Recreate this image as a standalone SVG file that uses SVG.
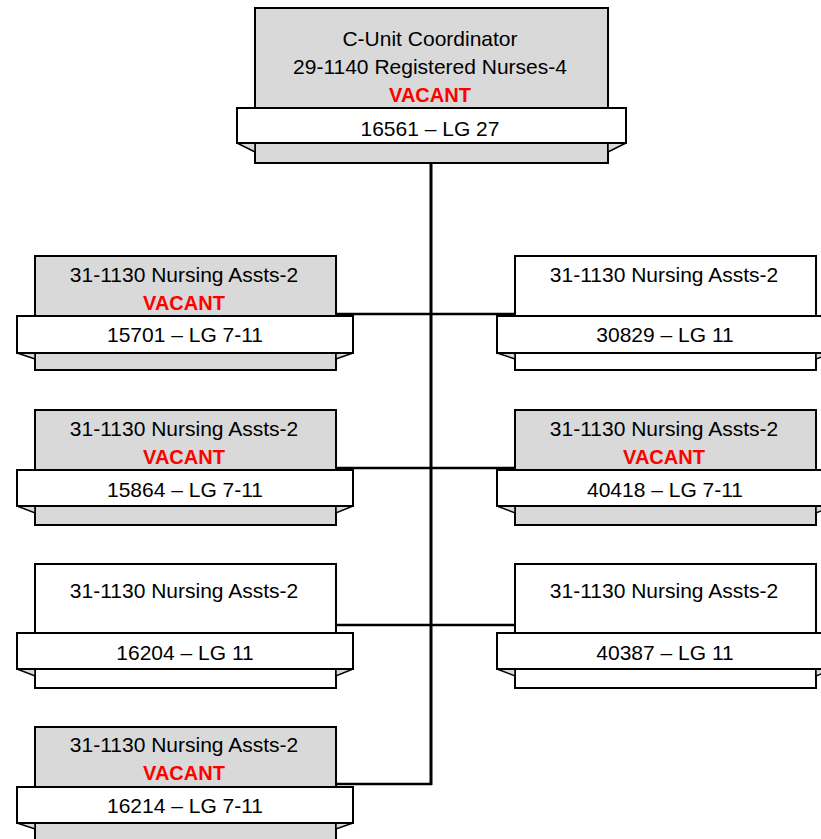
<svg xmlns="http://www.w3.org/2000/svg" width="821" height="839" viewBox="0 0 821 839">
<style>
.box{stroke:#000;stroke-width:2}
.gray{fill:#d9d9d9}
.white{fill:#fff}
.banner{fill:#fff;stroke:#000;stroke-width:2}
.fold{fill:#d9d9d9;stroke:#000;stroke-width:1.5;stroke-linejoin:miter}
.t{font-family:"Liberation Sans",Arial,sans-serif;font-size:21px;fill:#000;text-anchor:middle}
.v{font-family:"Liberation Sans",Arial,sans-serif;font-size:20px;font-weight:bold;fill:#ff0000;text-anchor:middle}
.conn{stroke:#000;stroke-width:2.5;fill:none}
</style>
<rect width="821" height="839" fill="#fff"/>
<g id="connectors">
<line class="conn" x1="431" y1="163" x2="431" y2="785" style="stroke-width:3"/>
<line class="conn" x1="336" y1="314" x2="515" y2="314"/>
<line class="conn" x1="336" y1="468" x2="515" y2="468"/>
<line class="conn" x1="336" y1="625" x2="515" y2="625"/>
<line class="conn" x1="336" y1="784" x2="432" y2="784"/>
</g>
<g id="node-top">
<rect class="box gray" x="255" y="8" width="353" height="155"/>
<polygon class="fold" points="237,143 255,143 255,152"/>
<polygon class="fold" points="626,143 608,143 608,152"/>
<rect class="banner" x="237" y="108" width="389" height="35"/>
<text class="t" x="430" y="46">C-Unit Coordinator</text>
<text class="t" x="430" y="74">29-1140 Registered Nurses-4</text>
<text class="v" x="430" y="102">VACANT</text>
<text class="t" x="430" y="136">16561 – LG 27</text>
</g>
<g id="node-15701">
<rect class="box gray" x="35" y="256" width="301" height="114"/>
<polygon class="fold" points="17,353 35,353 35,359"/>
<polygon class="fold" points="353,353 336,353 336,359"/>
<rect class="banner" x="17" y="316" width="336" height="37"/>
<text class="t" x="184" y="282">31-1130 Nursing Assts-2</text>
<text class="v" x="184" y="310">VACANT</text>
<text class="t" x="185" y="342">15701 – LG 7-11</text>
</g>
<g id="node-30829">
<rect class="box white" x="515" y="256" width="301" height="114"/>
<polygon class="fold" points="497,353 515,353 515,359"/>
<polygon class="fold" points="834,353 816,353 816,359"/>
<rect class="banner" x="497" y="316" width="337" height="37"/>
<text class="t" x="664" y="282">31-1130 Nursing Assts-2</text>
<text class="t" x="665" y="342">30829 – LG 11</text>
</g>
<g id="node-15864">
<rect class="box gray" x="35" y="410" width="301" height="115"/>
<polygon class="fold" points="17,506 35,506 35,513"/>
<polygon class="fold" points="353,506 336,506 336,513"/>
<rect class="banner" x="17" y="470" width="336" height="36"/>
<text class="t" x="184" y="436">31-1130 Nursing Assts-2</text>
<text class="v" x="184" y="464">VACANT</text>
<text class="t" x="185" y="497">15864 – LG 7-11</text>
</g>
<g id="node-40418">
<rect class="box gray" x="515" y="410" width="301" height="115"/>
<polygon class="fold" points="497,506 515,506 515,513"/>
<polygon class="fold" points="834,506 816,506 816,513"/>
<rect class="banner" x="497" y="470" width="337" height="36"/>
<text class="t" x="664" y="436">31-1130 Nursing Assts-2</text>
<text class="v" x="664" y="464">VACANT</text>
<text class="t" x="665" y="497">40418 – LG 7-11</text>
</g>
<g id="node-16204">
<rect class="box white" x="35" y="564" width="301" height="124"/>
<polygon class="fold" points="17,669 35,669 35,676"/>
<polygon class="fold" points="353,669 336,669 336,676"/>
<rect class="banner" x="17" y="633" width="336" height="36"/>
<text class="t" x="184" y="598">31-1130 Nursing Assts-2</text>
<text class="t" x="185" y="660">16204 – LG 11</text>
</g>
<g id="node-40387">
<rect class="box white" x="515" y="564" width="301" height="124"/>
<polygon class="fold" points="497,669 515,669 515,676"/>
<polygon class="fold" points="834,669 816,669 816,676"/>
<rect class="banner" x="497" y="633" width="337" height="36"/>
<text class="t" x="664" y="598">31-1130 Nursing Assts-2</text>
<text class="t" x="665" y="660">40387 – LG 11</text>
</g>
<g id="node-16214">
<rect class="box gray" x="35" y="727" width="301" height="130"/>
<polygon class="fold" points="17,823 35,823 35,829"/>
<polygon class="fold" points="353,823 336,823 336,829"/>
<rect class="banner" x="17" y="787" width="336" height="36"/>
<text class="t" x="184" y="752">31-1130 Nursing Assts-2</text>
<text class="v" x="184" y="780">VACANT</text>
<text class="t" x="185" y="813">16214 – LG 7-11</text>
</g>
</svg>
